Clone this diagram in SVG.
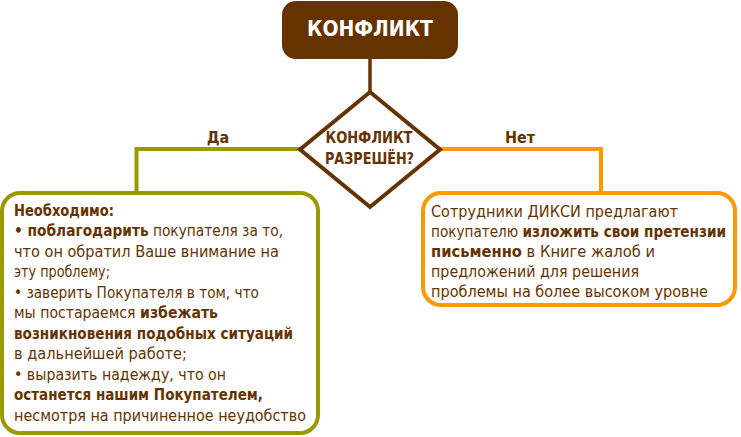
<svg xmlns="http://www.w3.org/2000/svg" width="741" height="437" viewBox="0 0 741 437">
<style>
.t{font-family:"DejaVu Sans Condensed","DejaVu Sans",sans-serif;font-stretch:condensed;font-size:16.5px;fill:#663300}
.b{font-weight:bold}
.lbl{font-family:"DejaVu Sans Condensed","DejaVu Sans",sans-serif;font-stretch:condensed;font-weight:bold;font-size:16px;fill:#663300}
</style>
<rect width="741" height="437" fill="#ffffff"/>
<g id="connectors" fill="none" stroke-width="4">
<line x1="370" y1="58" x2="370" y2="92" stroke="#663300" stroke-width="3.5"/>
<polyline points="300,149 136.5,149 136.5,193" stroke="#999900"/>
<polyline points="440,149 601,149 601,193" stroke="#FF9900"/>
<text class="lbl" x="218" y="143" text-anchor="middle" stroke="none">Да</text>
<text class="lbl" x="520" y="143" text-anchor="middle" stroke="none">Нет</text>
</g>
<g id="node-conflict">
<rect x="282" y="1" width="176" height="58" rx="14" fill="#663300"/>
<text x="370" y="36" text-anchor="middle" font-family="DejaVu Sans Condensed,DejaVu Sans,sans-serif" font-weight="bold" font-size="21" fill="#ffffff" textLength="126" lengthAdjust="spacingAndGlyphs">КОНФЛИКТ</text>
</g>
<g id="node-decision">
<polygon points="370,92 440,149.5 370,207 300,149.5" fill="#ffffff" stroke="#663300" stroke-width="4"/>
<text class="lbl" x="369" y="143" text-anchor="middle" textLength="87" lengthAdjust="spacingAndGlyphs">КОНФЛИКТ</text>
<text class="lbl" x="369.5" y="164" text-anchor="middle" textLength="89" lengthAdjust="spacingAndGlyphs">РАЗРЕШЁН?</text>
</g>
<g id="node-yes">
<rect x="2" y="193" width="316" height="240" rx="18" fill="#ffffff" stroke="#999900" stroke-width="4"/>
<text class="t b" x="14" y="215.5" textLength="100" lengthAdjust="spacingAndGlyphs">Необходимо:</text>
<text class="t" x="14" y="236" textLength="269" lengthAdjust="spacingAndGlyphs"><tspan class="b">• поблагодарить</tspan> покупателя за то,</text>
<text class="t" x="14" y="256.5" textLength="265" lengthAdjust="spacingAndGlyphs">что он обратил Ваше внимание на</text>
<text class="t" x="14" y="277" textLength="96" lengthAdjust="spacingAndGlyphs">эту проблему;</text>
<text class="t" x="14" y="297.5" textLength="245" lengthAdjust="spacingAndGlyphs">• заверить Покупателя в том, что</text>
<text class="t" x="14" y="318" textLength="204" lengthAdjust="spacingAndGlyphs">мы постараемся <tspan class="b">избежать</tspan></text>
<text class="t b" x="14" y="338.5" textLength="279" lengthAdjust="spacingAndGlyphs">возникновения подобных ситуаций</text>
<text class="t" x="14" y="359" textLength="173" lengthAdjust="spacingAndGlyphs">в дальнейшей работе;</text>
<text class="t" x="14" y="379.5" textLength="212" lengthAdjust="spacingAndGlyphs">• выразить надежду, что он</text>
<text class="t b" x="14" y="400" textLength="249" lengthAdjust="spacingAndGlyphs">останется нашим Покупателем,</text>
<text class="t" x="14" y="420.5" textLength="292" lengthAdjust="spacingAndGlyphs">несмотря на причиненное неудобство</text>
</g>
<g id="node-no">
<rect x="423" y="193" width="312" height="112" rx="18" fill="#ffffff" stroke="#FF9900" stroke-width="4"/>
<text class="t" x="431" y="216.5" textLength="247" lengthAdjust="spacingAndGlyphs">Сотрудники ДИКСИ предлагают</text>
<text class="t" x="431" y="236.5" font-size="15.5" textLength="295" lengthAdjust="spacingAndGlyphs" style="font-size:15.5px">покупателю <tspan class="b">изложить свои претензии</tspan></text>
<text class="t" x="431" y="256.5" textLength="224" lengthAdjust="spacingAndGlyphs"><tspan class="b">письменно</tspan> в Книге жалоб и</text>
<text class="t" x="431" y="276.5" textLength="208" lengthAdjust="spacingAndGlyphs">предложений для решения</text>
<text class="t" x="431" y="296.5" textLength="277" lengthAdjust="spacingAndGlyphs">проблемы на более высоком уровне</text>
</g>
</svg>
